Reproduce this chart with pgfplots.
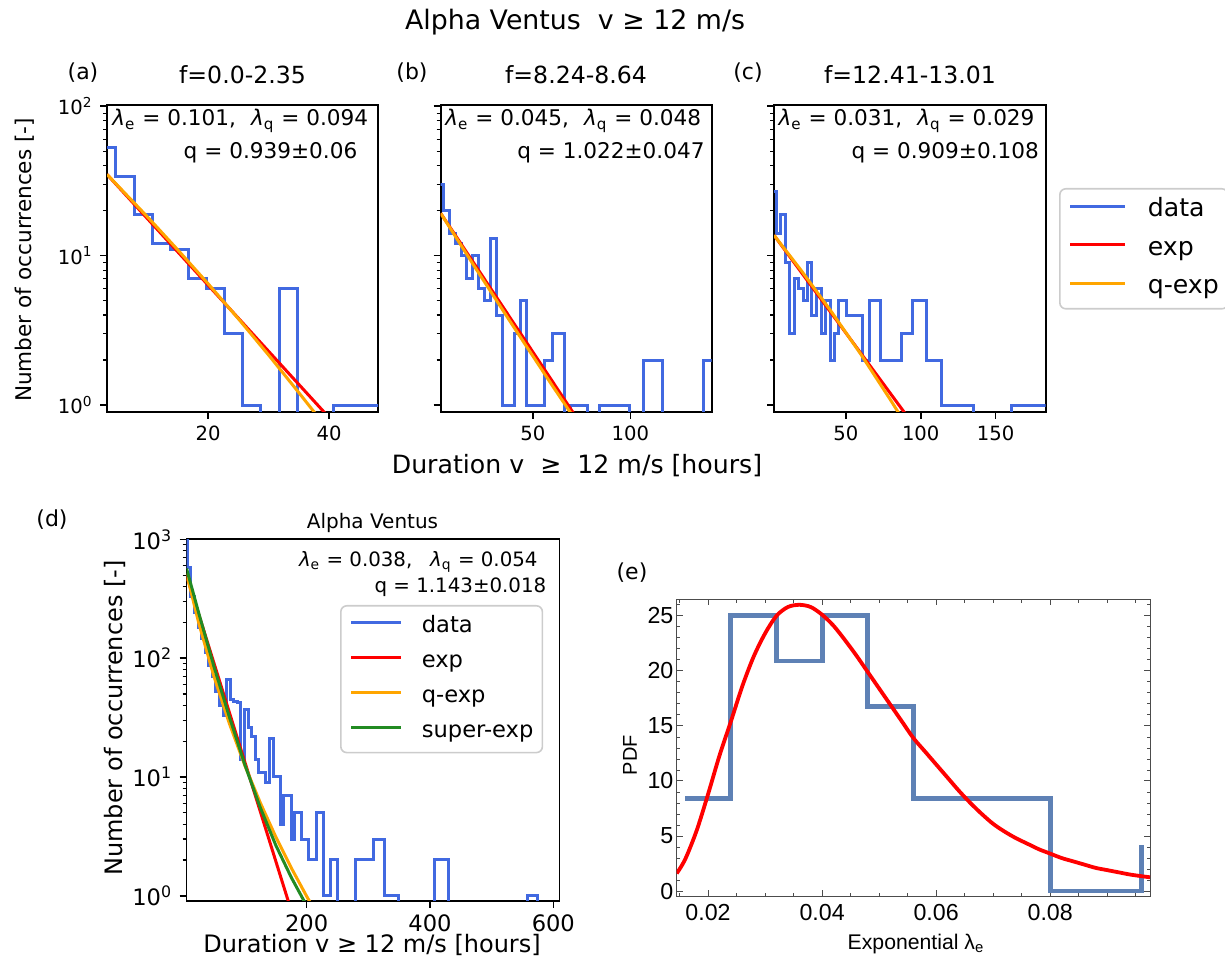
\documentclass[border=0pt]{standalone}
\usepackage{fontspec}
\setmainfont{DejaVu Sans}
\newfontfamily\mfont{Liberation Sans}
\usepackage{pgfplots}
\pgfplotsset{compat=1.18}
\definecolor{royal}{HTML}{4169E1}
\definecolor{qorange}{HTML}{FFA500}
\definecolor{fgreen}{HTML}{228B22}
\definecolor{mblue}{HTML}{5E81B5}
\definecolor{lgray}{HTML}{CCCCCC}
\newcommand{\fs}[1]{\fontsize{#1}{#1}\selectfont}
\newcommand{\lam}[1]{\textit{λ}\textsubscript{#1}}

\begin{document}
\begin{tikzpicture}
\path[use as bounding box] (0pt,0pt) rectangle (612.5pt,482pt);

% ---------- (a)
\begin{axis}[scale only axis, ymode=log, anchor=south west,
  at={(53.5pt,276pt)}, width=135.5pt, height=153.5pt,
  axis line style={line width=0.8pt},
  tick pos=left, tick align=outside,
  major tick length=3.5pt, minor tick length=2pt,
  major tick style={black, line width=0.8pt},
  minor tick style={black, line width=0.6pt},
  ticklabel style={inner sep=0pt, font=\fs{9.8}},
  xticklabel style={yshift=-3.5pt}, yticklabel style={xshift=-3.5pt},
  ymin=0.898, ymax=102, ytick={1,10,100},
  minor ytick={2,3,4,5,6,7,8,9,20,30,40,50,60,70,80,90},
  xmin=3.26, xmax=48.1, xtick={20,40}, xticklabels={20,40},
  yticklabels={10\textsuperscript{0},10\textsuperscript{1},10\textsuperscript{2}}]
\addplot[const plot, royal, line width=1.5pt] coordinates {
 (1.74,53) (4.74,34) (7.74,19) (10.74,12) (13.74,11) (16.74,7) (19.74,6)
 (22.74,3) (25.74,1) (28.74,0.01) (31.74,6) (34.74,0.01) (40.74,1) (49.74,1)};
\addplot[red, line width=1.5pt] coordinates {(3.26,35) (40,0.825)};
\addplot[qorange, line width=1.5pt] coordinates {
 (3.26,35) (10,18.1) (15,10.9) (20,6.48) (25,3.78) (30,2.16) (35,1.21) (38,0.85)};
\end{axis}

% ---------- (b)
\begin{axis}[scale only axis, ymode=log, anchor=south west,
  at={(220.35pt,276pt)}, width=135.5pt, height=153.5pt,
  axis line style={line width=0.8pt},
  tick pos=left, tick align=outside,
  major tick length=3.5pt, minor tick length=2pt,
  major tick style={black, line width=0.8pt},
  minor tick style={black, line width=0.6pt},
  ticklabel style={inner sep=0pt, font=\fs{9.8}},
  xticklabel style={yshift=-3.5pt}, yticklabel style={xshift=-3.5pt},
  ymin=0.898, ymax=102, ytick={1,10,100},
  minor ytick={2,3,4,5,6,7,8,9,20,30,40,50,60,70,80,90},
  xmin=2.88, xmax=141.6, xtick={50,100}, xticklabels={50,100},
  yticklabels={}]
\addplot[const plot, royal, line width=1.5pt] coordinates {
 (1.2,30) (4.24,20) (7.31,14) (10.22,12) (13.29,10) (16.19,7) (19.26,10)
 (22.33,6) (25.23,5) (28.30,13) (31.38,4) (34.45,1) (40.42,3) (43.5,5)
 (46.57,1) (55.78,2) (60.05,3) (66.03,0.01) (69.1,1) (77.98,0.01) (84.12,1)
 (99.48,0.01) (106.65,2) (116.38,0.01) (137.37,2) (145,2)};
\addplot[red, line width=1.5pt] coordinates {(2.9,19.2) (73,0.80)};
\addplot[qorange, line width=1.5pt] coordinates {
 (2.9,19.2) (20,8.53) (40,3.37) (60,1.35) (72,0.79)};
\end{axis}

% ---------- (c)
\begin{axis}[scale only axis, ymode=log, anchor=south west,
  at={(387pt,276pt)}, width=135.85pt, height=153.5pt,
  axis line style={line width=0.8pt},
  tick pos=left, tick align=outside,
  major tick length=3.5pt, minor tick length=2pt,
  major tick style={black, line width=0.8pt},
  minor tick style={black, line width=0.6pt},
  ticklabel style={inner sep=0pt, font=\fs{9.8}},
  xticklabel style={yshift=-3.5pt}, yticklabel style={xshift=-3.5pt},
  ymin=0.898, ymax=102, ytick={1,10,100},
  minor ytick={2,3,4,5,6,7,8,9,20,30,40,50,60,70,80,90},
  xmin=2.1, xmax=183.4, xtick={50,100,150}, xticklabels={50,100,150},
  yticklabels={},
  legend style={at={(1.049,0.7296)}, anchor=north west, draw=lgray,
    line width=0.8pt, rounded corners=3pt, fill=white, font=\fs{12.6},
    inner xsep=4.5pt, inner ysep=4.5pt, row sep=6.75pt, column sep=10.5pt,
    nodes={inner sep=0pt, text height=9.5pt, text depth=3pt}},
  legend cell align=left,
  legend image code/.code={\draw[#1] (0pt,2pt) -- (27.5pt,2pt);}]
\addplot[const plot, royal, line width=1.5pt] coordinates {
 (0.8,27) (3.89,14) (6.56,19) (9.9,9) (12.35,3) (15.69,7) (18.36,6) (21.7,5)
 (24.37,9) (27.27,4) (30.16,6) (33.5,3) (36.62,5) (39.51,2) (42.41,3)
 (45.08,5) (50.65,4) (61.11,2) (65.56,5) (73.36,2) (86.94,3) (94.51,5)
 (103.64,2) (113.66,1) (135.26,0.01) (160.87,1) (190,1)};
\addlegendentry{data}
\addplot[red, line width=1.5pt] coordinates {(2.1,13.7) (92,0.814)};
\addlegendentry{exp}
\addplot[qorange, line width=1.5pt] coordinates {
 (2.1,13.7) (20,8.02) (40,4.27) (60,2.19) (80,1.075) (88,0.80)};
\addlegendentry{q-exp}
\end{axis}

% ---------- (d)
\begin{axis}[scale only axis, ymode=log, anchor=south west,
  at={(93.25pt,31.65pt)}, width=186.4pt, height=180.7pt,
  axis line style={line width=0.8pt},
  tick pos=left, tick align=outside,
  major tick length=3.5pt, minor tick length=2pt,
  major tick style={black, line width=0.8pt},
  minor tick style={black, line width=0.6pt},
  ticklabel style={inner sep=0pt, font=\fs{11.3}},
  xticklabel style={yshift=-3.5pt}, yticklabel style={xshift=-3.5pt},
  xmin=5.2, xmax=609.7, ymin=0.908, ymax=1001,
  xtick={200,400,600}, xticklabels={200,400,600},
  ytick={1,10,100,1000},
  yticklabels={10\textsuperscript{0},10\textsuperscript{1},10\textsuperscript{2},10\textsuperscript{3}},
  minor ytick={2,3,4,5,6,7,8,9,20,30,40,50,60,70,80,90,200,300,400,500,600,700,800,900},
  legend style={at={(0.4118,0.8182)}, anchor=north west, draw=lgray,
    line width=0.8pt, rounded corners=3pt, fill=white, font=\fs{11.3},
    inner xsep=4.5pt, inner ysep=4.7pt, row sep=6pt, column sep=9.5pt,
    nodes={inner sep=0pt, text height=8.5pt, text depth=3pt}},
  legend cell align=left,
  legend image code/.code={\draw[#1] (0pt,2pt) -- (25pt,2pt);}]
\addplot[const plot, royal, line width=1.5pt] coordinates {
 (0.7,1500) (6.5,574) (12.3,330) (18.1,240) (23.9,180) (29.7,145) (35.5,112)
 (41.3,86) (47.1,70) (52.9,52) (58.7,40) (64.5,33) (70.3,66) (76.1,45)
 (81.9,43) (87.7,42) (93.5,14) (99.3,37) (105.1,26) (110.9,22) (116.7,14)
 (122.5,11) (134.1,9) (139.9,21) (145.7,10) (157.3,4) (163.1,7) (174.7,3)
 (180.5,5) (192.1,3) (203.7,2) (215.3,5) (226.9,1) (238.5,2) (250.1,0.01)
 (279.1,2) (308.1,3) (325.5,1) (348.7,0.01) (406.7,2) (429.9,0.01)
 (557.5,1) (574.9,0.01) (620,0.01)};
\addlegendentry{data}
\addplot[red, line width=1.5pt] coordinates {(5.2,500) (175,0.75)};
\addlegendentry{exp}
\addplot[qorange, line width=1.5pt] coordinates {
 (5.2,516) (25,198) (50,69.3) (75,27.9) (100,12.4) (125,6.04) (150,3.13)
 (175,1.72) (200,0.99) (215,0.726)};
\addlegendentry{q-exp}
\addplot[fgreen, line width=1.5pt] coordinates {
 (5.2,570) (25,240) (50,84) (75,31.7) (100,12.6) (125,5.5) (150,2.66)
 (175,1.43) (195,0.92) (210,0.68)};
\addlegendentry{super-exp}
\end{axis}

% ---------- (e)
\begin{axis}[scale only axis, at={(338.35pt,34pt)}, anchor=south west,
  width=236.65pt, height=148.35pt,
  xmin=0.0145, xmax=0.0975, ymin=-0.45, ymax=26.5,
  xtick={0.02,0.04,0.06,0.08}, xticklabels={0.02,0.04,0.06,0.08},
  minor xtick={0.015,0.025,0.03,0.035,0.045,0.05,0.055,0.065,0.07,0.075,0.085,0.09,0.095},
  ytick={0,5,10,15,20,25}, yticklabels={0,5,10,15,20,25},
  minor ytick={1,2,3,4,6,7,8,9,11,12,13,14,16,17,18,19,21,22,23,24,26},
  scaled x ticks=false, scaled y ticks=false,
  tick align=inside, tick pos=both,
  major tick length=3pt, minor tick length=1.7pt,
  axis line style={black!70, line width=0.5pt},
  major tick style={black!70, line width=0.5pt},
  minor tick style={black!70, line width=0.4pt},
  ticklabel style={font=\mfont\fs{11.6}, inner sep=0pt},
  xticklabel style={yshift=-4pt}, yticklabel style={xshift=-1.5pt}]
\addplot[const plot, mblue, line width=2.4pt] coordinates {
 (0.016,8.38) (0.024,25.05) (0.032,20.9) (0.040,25.05) (0.048,16.75)
 (0.056,8.38) (0.080,0) (0.096,4.18)};
\addplot[red, line width=1.9pt, smooth] coordinates {
 (0.0145,1.6) (0.016,2.9) (0.018,5.5) (0.020,8.8) (0.022,12.3) (0.024,15.4)
 (0.026,18.6) (0.028,21.3) (0.030,23.4) (0.032,25.0) (0.034,25.8) (0.036,26.0)
 (0.038,25.8) (0.040,25.1) (0.042,24.1) (0.044,22.8) (0.046,21.4) (0.048,19.9)
 (0.050,18.4) (0.052,16.9) (0.054,15.4) (0.056,13.9) (0.058,12.7) (0.060,11.5)
 (0.062,10.3) (0.064,9.1) (0.066,8.0) (0.068,7.0) (0.070,6.1) (0.072,5.4)
 (0.074,4.8) (0.076,4.3) (0.078,3.8) (0.080,3.4) (0.082,3.0) (0.084,2.7)
 (0.086,2.4) (0.088,2.1) (0.090,1.9) (0.092,1.7) (0.094,1.5) (0.096,1.35)
 (0.0975,1.25)};
\end{axis}

% ---------- texts
\node at (287.5pt,471pt) {\fs{13.4}Alpha Ventus\ \ v ≥ 12 m/s};
\node at (41.5pt,445.5pt) {\fs{11}(a)};
\node at (206pt,445.5pt) {\fs{11}(b)};
\node at (374pt,445.5pt) {\fs{11}(c)};
\node at (121.25pt,444.5pt) {\fs{11.8}f=0.0-2.35};
\node at (288pt,444.5pt) {\fs{11.8}f=8.24-8.64};
\node at (455pt,444.5pt) {\fs{11.8}f=12.41-13.01};
\node[anchor=west,inner sep=0pt] at (56pt,421.5pt) {\fs{10.8}\lam{e} = 0.101,\hspace{0.7em}\lam{q} = 0.094};
\node[anchor=east,inner sep=0pt] at (178.85pt,405.5pt) {\fs{10.8}q = 0.939±0.06};
\node[anchor=west,inner sep=0pt] at (222.5pt,421.5pt) {\fs{10.8}\lam{e} = 0.045,\hspace{0.7em}\lam{q} = 0.048};
\node[anchor=east,inner sep=0pt] at (352.5pt,405.5pt) {\fs{10.8}q = 1.022±0.047};
\node[anchor=west,inner sep=0pt] at (389.15pt,421.5pt) {\fs{10.8}\lam{e} = 0.031,\hspace{0.7em}\lam{q} = 0.029};
\node[anchor=east,inner sep=0pt] at (519.65pt,405.5pt) {\fs{10.8}q = 0.909±0.108};
\node[rotate=90] at (12.5pt,352pt) {\fs{10.8}Number of occurrences [-]};
\node at (288.5pt,249pt) {\fs{12.6}Duration v\ \ ≥\ \ 12 m/s [hours]};
% (d)
\node at (26pt,222pt) {\fs{11}(d)};
\node at (186.25pt,220.5pt) {\fs{10}Alpha Ventus};
\node[anchor=east,inner sep=0pt] at (269pt,201pt) {\fs{9.9}\lam{e} = 0.038,\hspace{0.9em}\lam{q} = 0.054};
\node[anchor=east,inner sep=0pt] at (273.35pt,188.5pt) {\fs{9.9}q = 1.143±0.018};
\node[rotate=90] at (57.5pt,123pt) {\fs{12}Number of occurrences [-]};
\node at (186pt,9.5pt) {\fs{12}Duration v\ ≥\ 12 m/s [hours]};
% (e)
\node at (316pt,195.5pt) {\fs{11}(e)};
\node[rotate=90] at (315pt,104.5pt) {\mfont\fs{10}PDF};
\node at (458pt,10pt) {\mfont\fs{10.6}Exponential λ\textsubscript{e}};
\end{tikzpicture}
\end{document}
